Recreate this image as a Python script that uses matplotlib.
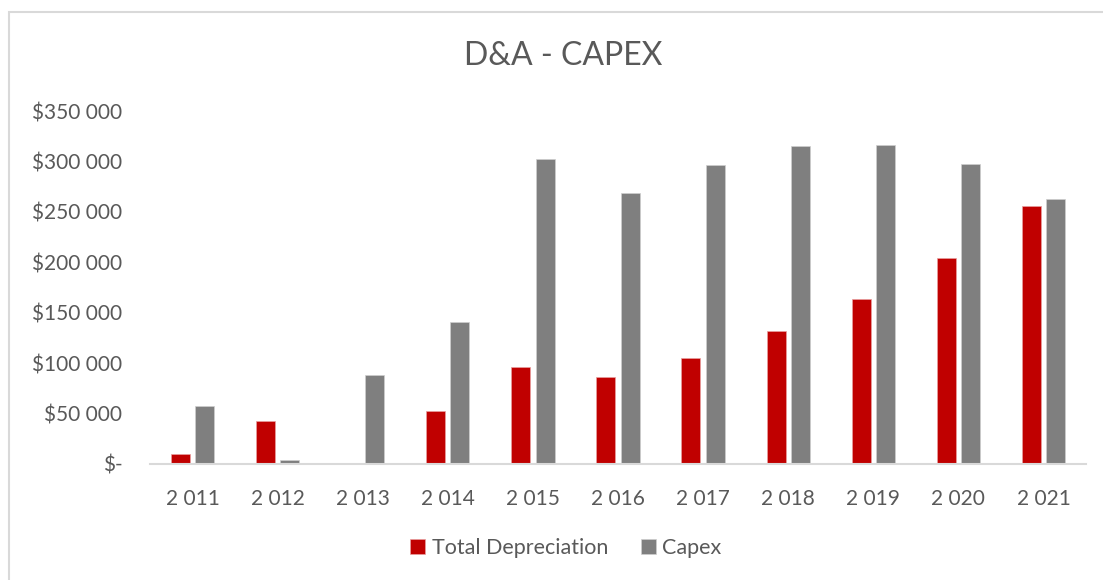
import matplotlib.pyplot as plt
import numpy as np
from matplotlib.ticker import FuncFormatter, MultipleLocator
from matplotlib.patches import Rectangle

plt.rcParams['font.family'] = ['Lato', 'DejaVu Sans']

years = ["2 011", "2 012", "2 013", "2 014", "2 015", "2 016",
         "2 017", "2 018", "2 019", "2 020", "2 021"]
depreciation = [9900, 42900, 0, 52500, 96100, 86200,
                104700, 131500, 163600, 204500, 256100]
capex = [57100, 4300, 88200, 140800, 302400, 268300,
         296000, 315300, 315900, 297400, 262700]

RED = "#C00000"
GREY = "#7F7F7F"
TEXT = "#595959"
LINE = "#D9D9D9"


def money(v, pos):
    if v == 0:
        return "$-"
    return "$" + f"{int(v):,}".replace(",", " ")


fig = plt.figure(figsize=(11.03, 5.8), dpi=100)
ax = fig.add_axes([150 / 1103, 1 - 464 / 580, (1086 - 150) / 1103, (464 - 111) / 580])

x = np.arange(len(years))
w = 0.223
off = 0.143
ax.bar(x - off, depreciation, w, color=RED, edgecolor="#e8a0a0", linewidth=0.5,
       label="Total Depreciation")
ax.bar(x + off, capex, w, color=GREY, edgecolor="#cfcfcf", linewidth=0.5,
       label="Capex")

ax.set_xlim(-0.5, len(years) - 0.5)
ax.set_ylim(0, 350000)
ax.yaxis.set_major_locator(MultipleLocator(50000))
ax.yaxis.set_major_formatter(FuncFormatter(money))
ax.set_xticks(x)
ax.set_xticklabels(years)

for s in ["top", "right", "left"]:
    ax.spines[s].set_visible(False)
ax.spines["bottom"].set_color(LINE)
ax.spines["bottom"].set_linewidth(1.5)
ax.tick_params(axis="both", length=0, labelsize=15, colors=TEXT)
ax.tick_params(axis="y", pad=20)
ax.tick_params(axis="x", pad=18)

fig.text(0.511, 1 - 56 / 580, "D&A - CAPEX", ha="center", va="center",
         fontsize=23, color=TEXT)

fig.legend(loc="center", bbox_to_anchor=(0.513, 1 - 548 / 580), ncol=2,
           frameon=False, fontsize=15.5, labelcolor=TEXT, handlelength=0.7,
           handleheight=0.7, handletextpad=0.3, columnspacing=1.5)

# outer chart border
fig.patches.append(Rectangle((9 / 1103, -0.05), 1.2, 1 - 12 / 580 + 0.05,
                             transform=fig.transFigure, fill=False,
                             edgecolor=LINE, linewidth=1.5))

fig.savefig("out.png", dpi=100)
